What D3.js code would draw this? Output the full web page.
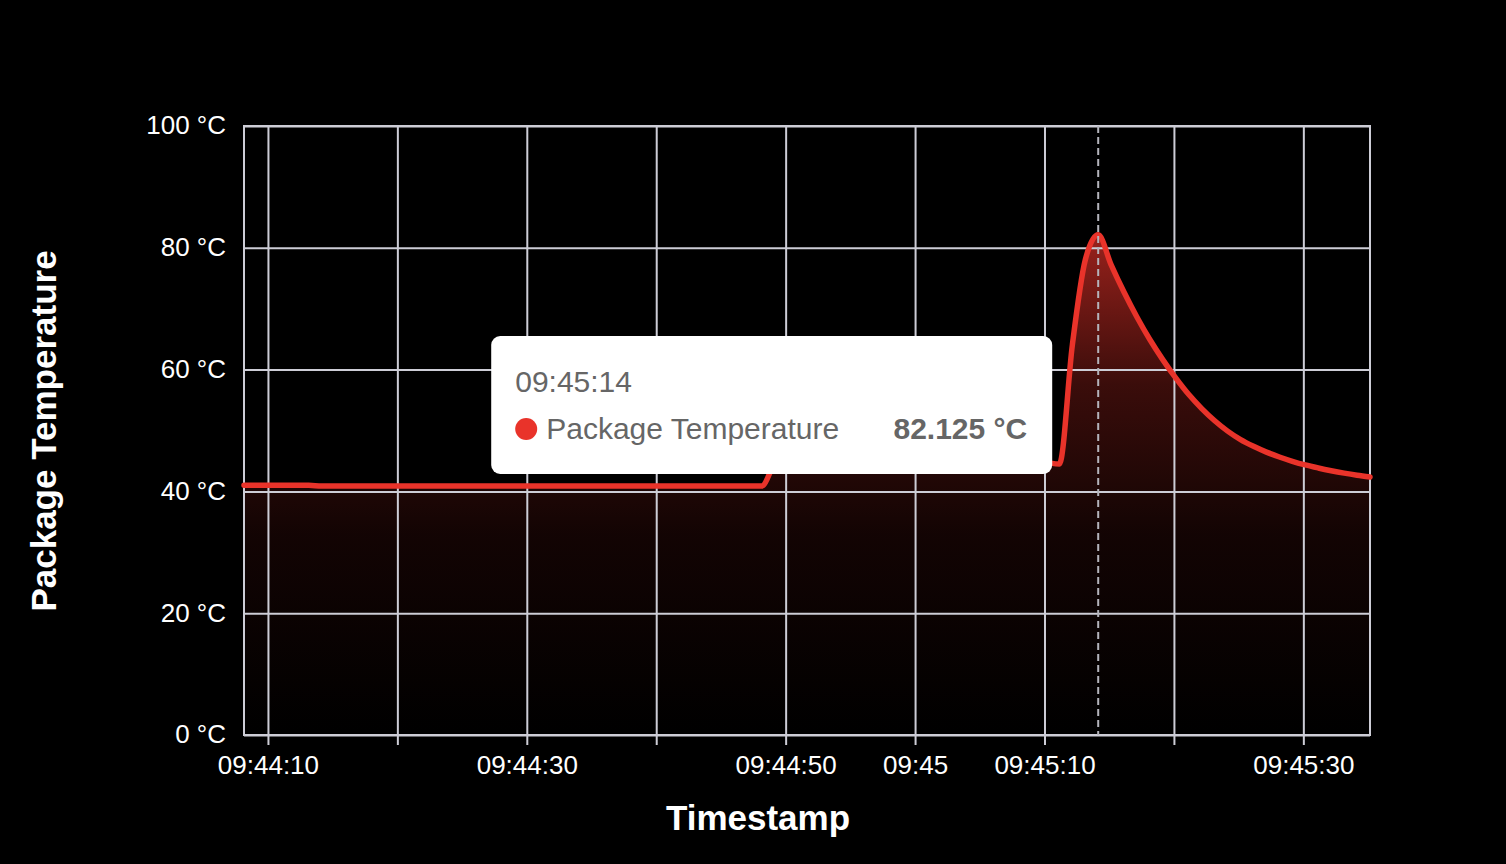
<!DOCTYPE html>
<meta charset="utf-8">
<style>
 html, body { margin: 0; padding: 0; background: #000; }
 svg { display: block; font-family: 'Liberation Sans', 'Helvetica', Arial, sans-serif; }
</style>

<svg width="1506" height="864"></svg>

<script src="https://d3js.org/d3.v7.min.js"></script>
<script>
 // samples, one per second
 var times = [
     '09:44:08.150', '09:44:09.150', '09:44:10.150', '09:44:11.150', '09:44:12.150', '09:44:13.150',
     '09:44:14.150', '09:44:15.150', '09:44:16.150', '09:44:17.150', '09:44:18.150', '09:44:19.150',
     '09:44:20.150', '09:44:21.150', '09:44:22.150', '09:44:23.150', '09:44:24.150', '09:44:25.150',
     '09:44:26.150', '09:44:27.150', '09:44:28.150', '09:44:29.150', '09:44:30.150', '09:44:31.150',
     '09:44:32.150', '09:44:33.150', '09:44:34.150', '09:44:35.150', '09:44:36.150', '09:44:37.150',
     '09:44:38.150', '09:44:39.150', '09:44:40.150', '09:44:41.150', '09:44:42.150', '09:44:43.150',
     '09:44:44.150', '09:44:45.150', '09:44:46.150', '09:44:47.150', '09:44:48.150', '09:44:49.150',
     '09:44:50.150', '09:44:51.150', '09:44:52.150', '09:44:53.150', '09:44:54.150', '09:44:55.150',
     '09:44:56.150', '09:44:57.150', '09:44:58.150', '09:44:59.150', '09:45:00.150', '09:45:01.150',
     '09:45:02.150', '09:45:03.150', '09:45:04.150', '09:45:05.150', '09:45:06.150', '09:45:07.150',
     '09:45:08.150', '09:45:09.150', '09:45:10.150', '09:45:11.150', '09:45:12.150', '09:45:13.150',
     '09:45:14.150', '09:45:15.150', '09:45:16.150', '09:45:17.150', '09:45:18.150', '09:45:19.150',
     '09:45:20.150', '09:45:21.150', '09:45:22.150', '09:45:23.150', '09:45:24.150', '09:45:25.150',
     '09:45:26.150', '09:45:27.150', '09:45:28.150', '09:45:29.150', '09:45:30.150', '09:45:31.150',
     '09:45:32.150', '09:45:33.150', '09:45:34.150', '09:45:35.150'
 ];
 var packageTemp = [
     41.0, 41.0, 41.0, 41.0, 41.0, 41.0,
     40.875, 40.875, 40.875, 40.875, 40.875, 40.875,
     40.875, 40.875, 40.875, 40.875, 40.875, 40.875,
     40.875, 40.875, 40.875, 40.875, 40.875, 40.875,
     40.875, 40.875, 40.875, 40.875, 40.875, 40.875,
     40.875, 40.875, 40.875, 40.875, 40.875, 40.875,
     40.875, 40.875, 40.875, 40.875, 40.875, 44.5,
     45.625, 46.0, 46.125, 46.25, 46.125, 46.0,
     46.125, 46.25, 46.375, 46.25, 46.125, 46.0,
     45.875, 46.0, 45.75, 45.625, 45.5, 45.375,
     45.25, 45.0, 44.75, 44.5, 64.0, 78.0,
     82.125, 77.2, 72.7, 68.6, 64.9, 61.6,
     58.6, 55.9, 53.6, 51.6, 49.9, 48.5,
     47.4, 46.45, 45.65, 44.95, 44.35, 43.85,
     43.4, 43.0, 42.65, 42.35
 ];
 var yTicks = [0, 20, 40, 60, 80, 100];
 var xGridTimes = ['09:44:10', '09:44:20', '09:44:30', '09:44:40', '09:44:50',
                   '09:45:00', '09:45:10', '09:45:20', '09:45:30'];
 var xTickLabels = {'09:44:10': '09:44:10', '09:44:30': '09:44:30', '09:44:50': '09:44:50',
                    '09:45:00': '09:45', '09:45:10': '09:45:10', '09:45:30': '09:45:30'};
 var hoverIndex = 66;
 var seriesName = 'Package Temperature';

 var parseT = d3.timeParse('%H:%M:%S.%L');
 var parseS = d3.timeParse('%H:%M:%S');
 var fmtS = d3.timeFormat('%H:%M:%S');
 var data = times.map(function(t, i) { return {t: parseT(t), v: packageTemp[i]}; });

 var margin = {top: 126, left: 244, right: 136, bottom: 129};
 var W = 1506, H = 864;
 var w = W - margin.left - margin.right, h = H - margin.top - margin.bottom;
 var red = '#e9332a', grid = '#cdcdd6';

 var svg = d3.select('svg');
 svg.append('rect').attr('width', W).attr('height', H).attr('fill', '#000');
 var g = svg.append('g').attr('transform', 'translate(' + margin.left + ',' + margin.top + ')');

 var x = d3.scaleTime().domain(d3.extent(data, function(d) { return d.t; })).range([0, w]);
 var y = d3.scaleLinear().domain([0, 100]).range([h, 0]);

 // gradient for the area
 var maxV = d3.max(packageTemp);
 var grad = svg.append('defs').append('linearGradient').attr('id', 'fade')
     .attr('gradientUnits', 'userSpaceOnUse')
     .attr('x1', 0).attr('x2', 0).attr('y1', y(maxV)).attr('y2', y(0));
 [[0, 0.66], [0.3, 0.25], [0.6, 0.08], [1, 0.0]].forEach(function(s) {
     grad.append('stop').attr('offset', s[0]).attr('stop-color', red).attr('stop-opacity', s[1]);
 });

 var curve = d3.curveMonotoneX;
 g.append('path').datum(data)
     .attr('fill', 'url(#fade)')
     .attr('d', d3.area().curve(curve).x(function(d) { return x(d.t); })
                 .y0(h).y1(function(d) { return y(d.v); }));

 // grid
 var xTickDates = xGridTimes.map(parseS);
 g.append('g').attr('class', 'grid')
     .call(d3.axisBottom(x).tickValues(xTickDates).tickSize(h).tickFormat(''))
     .call(function(s) { s.select('.domain').remove(); });
 g.append('g').attr('class', 'grid')
     .call(d3.axisLeft(y).tickValues(yTicks).tickSize(-w).tickFormat(''))
     .call(function(s) { s.select('.domain').remove(); });
 g.selectAll('.grid line').attr('stroke', grid).attr('stroke-width', 2);
 g.append('rect').attr('width', w).attr('height', h)
     .attr('fill', 'none').attr('stroke', grid).attr('stroke-width', 2);

 // axes
 var xa = g.append('g').attr('transform', 'translate(0,' + h + ')')
     .call(d3.axisBottom(x).tickValues(xTickDates).tickSize(10).tickPadding(11)
           .tickFormat(function(d) { return xTickLabels[fmtS(d)] || ''; }));
 var ya = g.append('g')
     .call(d3.axisLeft(y).tickValues(yTicks).tickSize(0).tickPadding(18)
           .tickFormat(function(d) { return d + ' °C'; }));
 [xa, ya].forEach(function(a) {
     a.select('.domain').remove();
     a.selectAll('line').attr('stroke', grid).attr('stroke-width', 2);
     a.selectAll('text').attr('fill', '#fff').style('font-size', '26px')
         .style('font-family', "'Liberation Sans', Arial, sans-serif");
 });
 ya.selectAll('text').attr('dy', '0.3em');

 // line
 g.append('path').datum(data)
     .attr('fill', 'none').attr('stroke', red).attr('stroke-width', 5.5)
     .attr('stroke-linejoin', 'round').attr('stroke-linecap', 'round')
     .attr('d', d3.line().curve(curve).x(function(d) { return x(d.t); }).y(function(d) { return y(d.v); }));

 // hover line
 var hp = data[hoverIndex];
 g.append('line').attr('x1', x(hp.t)).attr('x2', x(hp.t)).attr('y1', 0).attr('y2', h)
     .attr('stroke', '#b4b4bc').attr('stroke-width', 2).attr('stroke-dasharray', '7,4');

 // titles
 svg.append('text').attr('x', 758).attr('y', 830).attr('text-anchor', 'middle')
     .attr('fill', '#fff').style('font-size', '35px').style('font-weight', 'bold')
     .text('Timestamp');
 svg.append('text').attr('transform', 'translate(56,431) rotate(-90)').attr('text-anchor', 'middle')
     .attr('fill', '#fff').style('font-size', '35px').style('font-weight', 'bold')
     .text('Package Temperature');

 // tooltip
 var tx = x(hp.t) + margin.left - 607, ty = 336;
 var tip = svg.append('g').attr('transform', 'translate(' + tx + ',' + ty + ')');
 tip.append('rect').attr('width', 561).attr('height', 138).attr('rx', 9).attr('fill', '#fff');
 tip.append('text').attr('x', 24).attr('y', 56).attr('fill', '#666').style('font-size', '30px')
     .text(fmtS(hp.t));
 tip.append('circle').attr('cx', 35).attr('cy', 93).attr('r', 11).attr('fill', red);
 tip.append('text').attr('x', 55).attr('y', 103).attr('fill', '#666').style('font-size', '30px')
     .text(seriesName);
 tip.append('text').attr('x', 536).attr('y', 103).attr('text-anchor', 'end').attr('fill', '#666')
     .style('font-size', '30px').style('font-weight', 'bold')
     .text(hp.v + ' °C');
</script>
